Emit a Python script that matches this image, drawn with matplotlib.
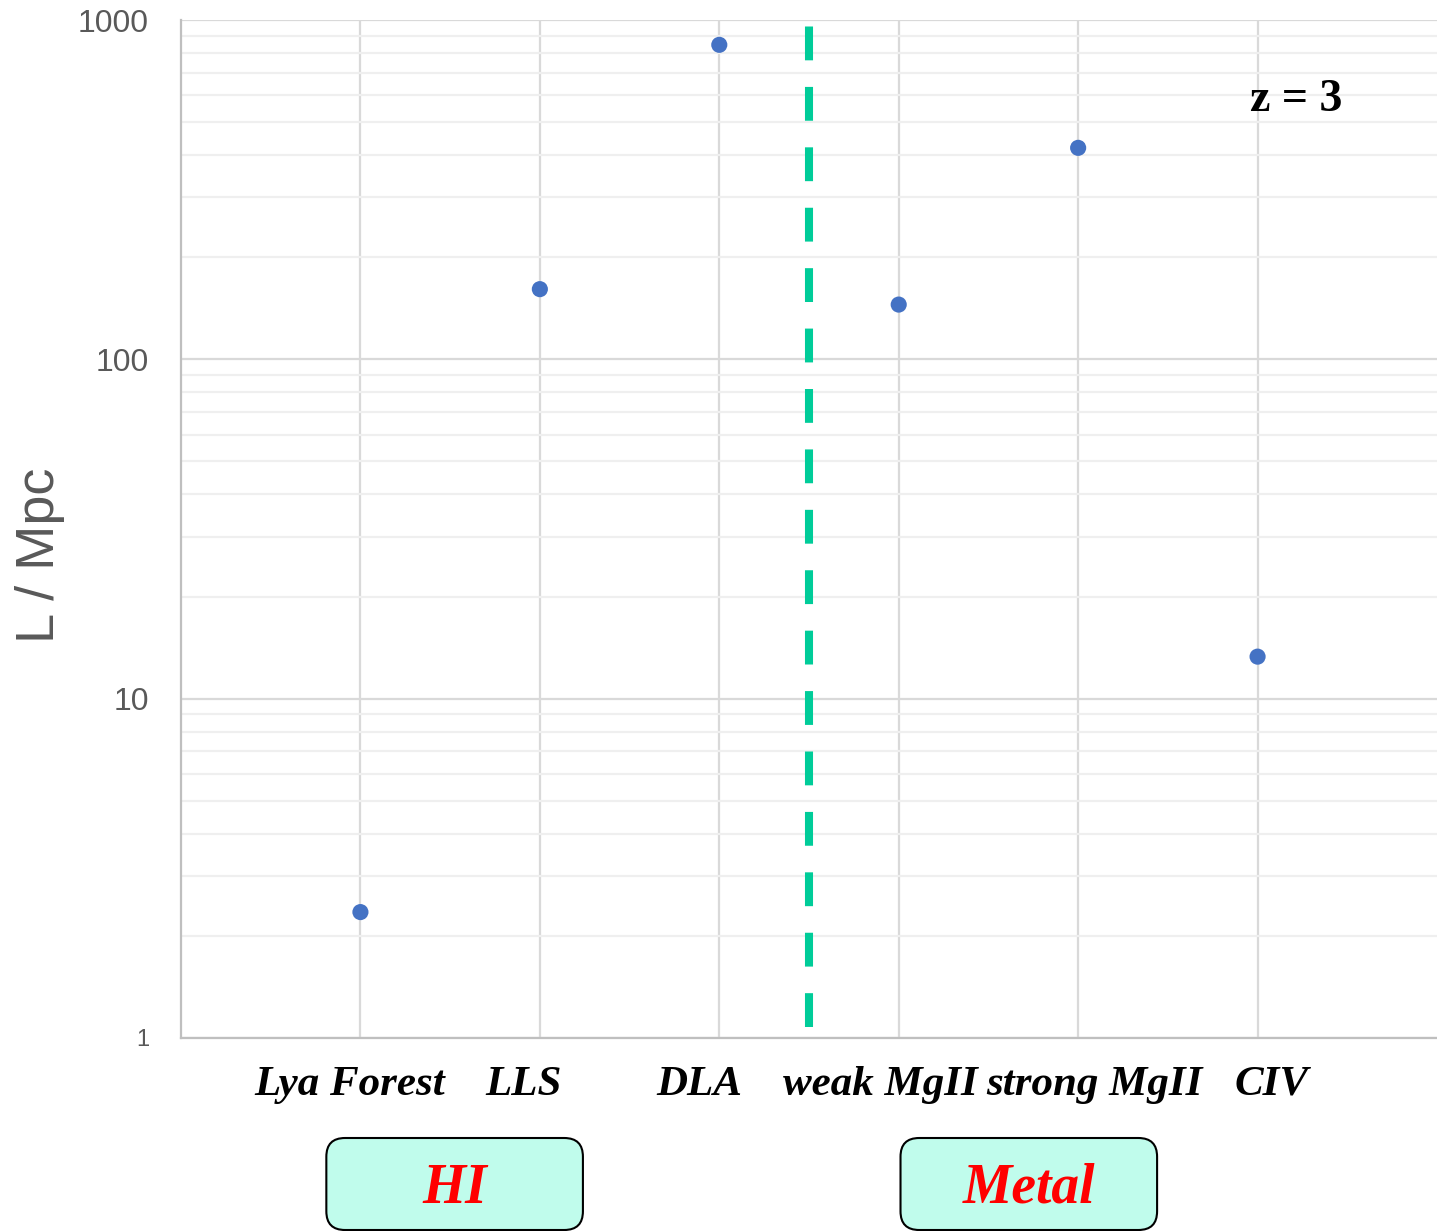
import matplotlib
matplotlib.use("Agg")
import matplotlib.pyplot as plt
from matplotlib.patches import FancyBboxPatch
from matplotlib.ticker import FixedLocator, NullFormatter, LogLocator

# ---- data ----
categories = ["Lya Forest", "LLS", "DLA", "weak MgII", "strong MgII", "CIV"]
values = [2.35, 161, 845, 145, 420, 13.3]
label_offsets = [-0.06, -0.09, -0.11, -0.10, 0.09, 0.08]   # text shift from category position
groups = ["HI", "Metal"]
group_spans = [(0.81, 2.24), (4.01, 5.44)]                 # in category units
ytick_vals = [1, 10, 100, 1000]
ytick_labels = ["1", "10", "100", "1000"]
divider = 3.5
annotation = "z = 3"

W, H = 1437, 1231
fig = plt.figure(figsize=(W / 100, H / 100), dpi=100)
ax = fig.add_axes([181 / W, 1 - 1038 / H, 1 - 181 / W, (1038 - 20) / H])

xs = list(range(1, len(categories) + 1))
ax.set_yscale("log")
ax.set_ylim(1, 1000)
ax.set_xlim(0, len(categories) + 1)

# grid
ax.yaxis.set_major_locator(FixedLocator(ytick_vals))
ax.yaxis.set_minor_locator(LogLocator(base=10, subs=range(2, 10)))
ax.yaxis.set_minor_formatter(NullFormatter())
ax.grid(True, which="major", axis="y", color="#d9d9d9", lw=1.6, zorder=0)
ax.grid(True, which="minor", axis="y", color="#efefef", lw=1.6, zorder=0)
ax.set_xticks(xs)
ax.grid(True, which="major", axis="x", color="#d9d9d9", lw=1.6, zorder=0)
ax.set_axisbelow(True)
ax.tick_params(axis="both", which="both", length=0)
ax.set_xticklabels([""] * len(xs))
ax.set_yticklabels(ytick_labels)
for lab in ax.get_yticklabels():
    lab.set_fontfamily("Liberation Sans")
    lab.set_color("#595959")
    lab.set_fontsize(23 if lab.get_text() != "1" else 17)
ax.tick_params(axis="y", pad=23)

for side in ["top", "right"]:
    ax.spines[side].set_visible(False)
for side in ["left", "bottom"]:
    ax.spines[side].set_color("#bfbfbf")
    ax.spines[side].set_linewidth(1.6)

# points
ax.scatter(xs, values, s=135, color="#4472C4", zorder=3, edgecolors="none", clip_on=False)

# divider
ax.plot([divider, divider], [1.08, 1000], color="#00CC99", lw=5.8,
        dashes=(4.2, 3.3), solid_capstyle="butt", dash_capstyle="butt", zorder=2)

# annotation
ax.text(0.888, 0.921, annotation, transform=ax.transAxes, ha="center", va="center",
        fontfamily="Liberation Serif", fontweight="bold", fontsize=33, color="black")

# y label
fig.text(40 / W, 1 - 555 / H, "L / Mpc", rotation=90, ha="center", va="center",
         fontfamily="Liberation Sans", fontsize=39, color="#595959")

# category labels
trans = ax.get_xaxis_transform()
for x, name, off in zip(xs, categories, label_offsets):
    ax.text(x + off, -0.046, name, transform=trans, ha="center", va="center",
            fontfamily="Liberation Serif", fontweight="bold", fontstyle="italic",
            fontsize=31, color="black", clip_on=False)

# group boxes
x0p, x1p = 181, 1437
def data_to_figx(v):
    return (x0p + (x1p - x0p) * v / (len(categories) + 1)) / W

box_top, box_bot = 1138, 1230
for name, (a, b) in zip(groups, group_spans):
    fx0, fx1 = data_to_figx(a), data_to_figx(b)
    fy0, fy1 = 1 - box_bot / H, 1 - box_top / H
    p = FancyBboxPatch((fx0, fy0), fx1 - fx0, fy1 - fy0,
                       boxstyle="round,pad=0,rounding_size=0.013",
                       transform=fig.transFigure, facecolor="#C0FCEC",
                       edgecolor="black", lw=1.5, mutation_aspect=W / H)
    fig.patches.append(p)
    fig.text((fx0 + fx1) / 2, (fy0 + fy1) / 2 - 0.004, name, ha="center", va="center",
             fontfamily="Liberation Serif", fontweight="bold", fontstyle="italic",
             fontsize=40, color="red")

fig.savefig("out.png", dpi=100)
